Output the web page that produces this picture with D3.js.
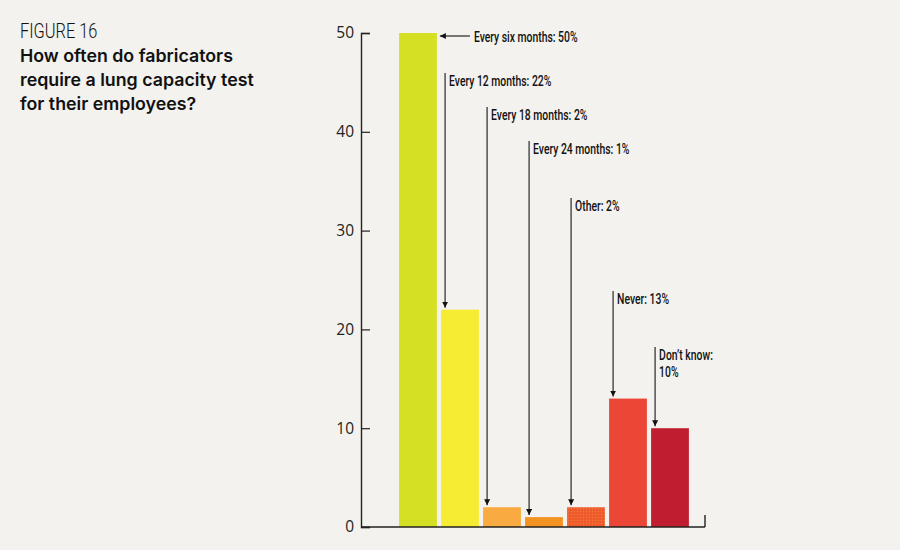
<!DOCTYPE html>
<html>
<head>
<meta charset="utf-8">
<script src="https://cdn.jsdelivr.net/npm/d3@7"></script>
<style>
  html, body { margin: 0; padding: 0; background: #f3f2ee; }
  svg { display: block; }
  .cond { font-family: Roboto, "DejaVu Sans", sans-serif; }
  .tick text { font-family: "Open Sans", "Noto Sans", sans-serif; font-size: 15.5px; fill: #222; }
</style>
</head>
<body>
<svg id="chart" width="900" height="550"></svg>
<script>
// data
const categories = ["Every six months", "Every 12 months", "Every 18 months",
  "Every 24 months", "Other", "Never", "Don't know"];
const values = [50, 22, 2, 1, 2, 13, 10];
const labels = [["Every six months: 50%"], ["Every 12 months: 22%"], ["Every 18 months: 2%"],
  ["Every 24 months: 1%"], ["Other: 2%"], ["Never: 13%"], ["Don\u2019t know:", "10%"]];
const yTicks = [0, 10, 20, 30, 40, 50];
const colors = ["#d5df24", "#f6ec31", "#f9aa40", "#f39322", "#ee5a2c", "#ec4636", "#c01d31"];
// top of each callout line, in pixels
const calloutTop = [null, 73, 107, 141, 198, 291, 347];

const svg = d3.select("#chart");

// squeeze text horizontally to mimic the condensed face
function condense(sel, k) {
  sel.each(function() {
    const w = this.getComputedTextLength();
    d3.select(this).attr("textLength", w * k).attr("lengthAdjust", "spacingAndGlyphs");
  });
}

// dotted fill used on the "Other" bar
const defs = svg.append("defs");
const pat = defs.append("pattern").attr("id", "dots")
  .attr("width", 3).attr("height", 3).attr("patternUnits", "userSpaceOnUse");
pat.append("rect").attr("width", 3).attr("height", 3).attr("fill", "#ee5a2c");
pat.append("circle").attr("cx", 1.5).attr("cy", 1.5).attr("r", 0.7).attr("fill", "#f47a3a");

defs.append("marker").attr("id", "arrow")
  .attr("viewBox", "0 0 10 10").attr("refX", 10).attr("refY", 5)
  .attr("markerWidth", 6).attr("markerHeight", 6).attr("markerUnits", "userSpaceOnUse")
  .attr("orient", "auto")
  .append("path").attr("d", "M0,0L10,5L0,10Z").attr("fill", "#111");

// title
svg.append("text").attr("class", "cond")
  .attr("x", 20).attr("y", 38)
  .style("font-size", "21px").style("font-weight", 300).style("fill", "#111")
  .text("FIGURE 16")
  .call(condense, 0.78);

const titleLines = ["How often do fabricators", "require a lung capacity test", "for their employees?"];
svg.append("g").selectAll("text").data(titleLines).join("text")
  .attr("x", 20).attr("y", (d, i) => 62 + i * 23.8)
  .style("font-family", "Inter, Roboto, sans-serif")
  .style("font-weight", 600).style("font-size", "17.8px").style("fill", "#111")
  .text(d => d);

// scales
const x = d3.scaleBand().domain(categories).range([397, 691])
  .paddingInner(0.1).paddingOuter(0.05);
const y = d3.scaleLinear().domain([0, 50]).range([527, 33]);

// bars
svg.append("g").selectAll("rect").data(values).join("rect")
  .attr("x", (d, i) => x(categories[i]))
  .attr("y", d => y(d))
  .attr("width", x.bandwidth())
  .attr("height", d => y(0) - y(d))
  .attr("fill", (d, i) => i === 4 ? "url(#dots)" : colors[i]);

// y axis
const yAxis = d3.axisRight(y).tickValues(yTicks).tickSize(9);
const ga = svg.append("g").attr("transform", "translate(361,0)").call(yAxis);
ga.select(".domain").attr("stroke", "#222").attr("stroke-width", 1.4);
ga.selectAll(".tick line").attr("stroke", "#222").attr("stroke-width", 1.2);
ga.selectAll(".tick text").attr("text-anchor", "end").attr("x", -7);

// x axis baseline with end tick
svg.append("line").attr("x1", 361).attr("x2", 705)
  .attr("y1", y(0)).attr("y2", y(0))
  .attr("stroke", "#222").attr("stroke-width", 1.4);
svg.append("line").attr("x1", 705).attr("x2", 705)
  .attr("y1", y(0) - 12).attr("y2", y(0))
  .attr("stroke", "#222").attr("stroke-width", 1.4);

// callouts
const ann = svg.append("g");
values.forEach((v, i) => {
  const bx = x(categories[i]);
  if (i === 0) {
    const ay = y(v) + 3;
    ann.append("line")
      .attr("x1", bx + x.bandwidth() + 33).attr("x2", bx + x.bandwidth() + 3)
      .attr("y1", ay).attr("y2", ay)
      .attr("stroke", "#222").attr("stroke-width", 1.2)
      .attr("marker-end", "url(#arrow)");
    ann.append("text").attr("class", "cond")
      .attr("x", bx + x.bandwidth() + 37).attr("y", ay + 5.5)
      .style("font-size", "15.5px").style("font-weight", 500).style("fill", "#111")
      .text(labels[i][0])
      .call(condense, 0.67);
  } else {
    const lx = bx + 4;
    ann.append("line")
      .attr("x1", lx).attr("x2", lx)
      .attr("y1", calloutTop[i]).attr("y2", y(v) - 2)
      .attr("stroke", "#444").attr("stroke-width", 1.4)
      .attr("marker-end", "url(#arrow)");
    labels[i].forEach((t, j) => {
      ann.append("text").attr("class", "cond")
        .attr("x", lx + 4).attr("y", calloutTop[i] + 13 + j * 17)
        .style("font-size", "15.5px").style("font-weight", 500).style("fill", "#111")
        .text(t)
        .call(condense, 0.67);
    });
  }
});
</script>
</body>
</html>
